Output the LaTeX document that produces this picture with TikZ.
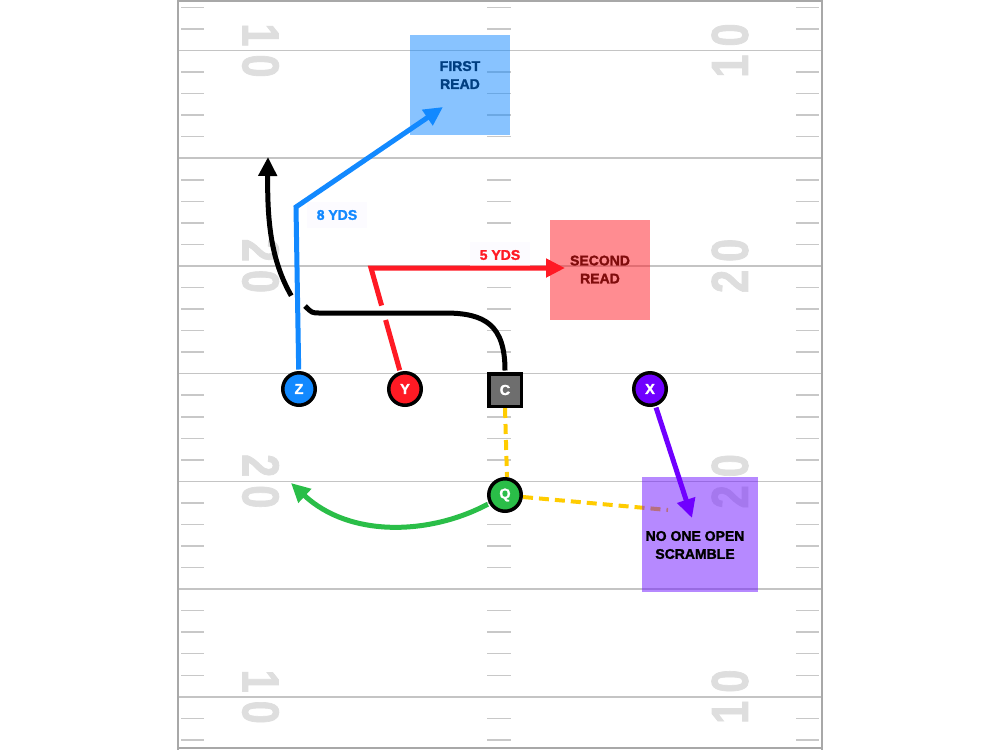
\documentclass[tikz,border=0pt]{standalone}
\usepackage{fontspec}
\setmainfont{Liberation Sans}[BoldFeatures={FakeBold=1.6}]
\usepackage{graphicx}
\usetikzlibrary{arrows.meta}

\definecolor{zblue}{RGB}{18,137,255}
\definecolor{yred}{RGB}{255,26,36}
\definecolor{xpurple}{RGB}{112,0,255}
\definecolor{qgreen}{RGB}{42,190,72}
\definecolor{cgray}{RGB}{110,110,110}
\definecolor{snapgold}{RGB}{255,204,0}
\definecolor{yardc}{RGB}{196,196,196}
\definecolor{hashc}{RGB}{200,200,200}
\definecolor{numc}{RGB}{222,222,222}
\definecolor{borderc}{RGB}{168,168,168}
\definecolor{darkredtxt}{RGB}{128,12,12}
\definecolor{darkbluetxt}{RGB}{0,62,128}
\definecolor{labbg}{RGB}{252,251,255}
\definecolor{scrambox}{RGB}{110,20,255}

\tikzset{
  yardline/.style={draw=yardc, line width=1.6pt},
  hashmark/.style={draw=hashc, line width=1.5pt},
  yardnum/.style={text=numc, font=\bfseries\fontsize{52}{52}\selectfont, inner sep=0pt},
  player/.style={circle, draw=black, line width=3.5pt, minimum size=32.5pt, inner sep=0pt,
    text=white, font=\bfseries\fontsize{14.5}{14.5}\selectfont},
  centersq/.style={rectangle, draw=black, line width=3.5pt, minimum size=32.5pt, inner sep=0pt,
    fill=cgray, text=white, font=\bfseries\fontsize{14.5}{14.5}\selectfont},
  route/.style={line width=5pt, shorten <=1.5pt},
  tipped/.style={-{Triangle[length=19pt,width=18pt]}},
  snapdash/.style={draw=snapgold, line width=4pt, dash pattern=on 10pt off 6pt},
  readbox/.style={rectangle, fill opacity=0.5, inner sep=0pt},
  boxtext/.style={align=center, font=\bfseries\fontsize{14}{18}\selectfont, inner sep=0pt},
  yds/.style={font=\bfseries\fontsize{14}{14}\selectfont, fill=labbg, inner xsep=10pt, inner ysep=8pt},
}

\begin{document}
\begin{tikzpicture}[x=1pt,y=-1pt]
\useasboundingbox (0,0) rectangle (1000,750);
\fill[white] (0,0) rectangle (1000,750);

% ---------- field ----------
\foreach \yy in {50.5,158.2,265.9,373.6,481.3,589,696.7}
  \draw[yardline] (178,\yy) -- (822,\yy);
\foreach \k in {0,...,34} {
  \pgfmathtruncatemacro\m{mod(\k,5)}
  \ifnum\m=2\relax\else
    \pgfmathsetmacro\yy{7.5+\k*21.54}
    \draw[hashmark] (181,\yy) -- (204,\yy) (487,\yy) -- (511,\yy) (796,\yy) -- (819,\yy);
  \fi
}
\foreach \yy/\a/\b [count=\i] in {50.5/1/0,265.9/2/0,481.3/2/0,696.7/1/0} {
  \node[yardnum, rotate=-90] (numL\i) at (260.5,\yy) {\scalebox{0.8}[1]{\a\kern10pt\b}};
  \node[yardnum, rotate=90] (numR\i) at (730,\yy) {\scalebox{0.8}[1]{\a\kern10pt\b}};
}
\draw[draw=borderc, line width=2pt] (178,1) -- (822,1) (178,748) -- (822,748);
\draw[draw=borderc, line width=2.2pt] (178,0) -- (178,750) (822,0) -- (822,750);

% ---------- snap / scramble dashed lines ----------
\coordinate (qend) at (668,510);
\draw[snapdash] (505,408) -- (507,477);
\draw[snapdash] (523,497) -- (qend);

% ---------- read boxes ----------
\node[readbox, fill=zblue, minimum width=100pt, minimum height=100pt] (R1) at (460,85) {};
\node[boxtext, text=darkbluetxt] (R1t) at (460,75) {FIRST\\READ};
\node[readbox, fill=yred, minimum width=100pt, minimum height=100pt] (R2) at (600,270) {};
\node[boxtext, text=darkredtxt] (R2t) at (600,269.5) {SECOND\\READ};
\node[readbox, fill=scrambox, minimum width=116pt, minimum height=115pt] (R3) at (700,534.5) {};
\node[boxtext, text=black] (R3t) at (695,545) {NO ONE OPEN\\SCRAMBLE};

% ---------- labels ----------
\node[yds, text=zblue] (l8) at (337,215) {8 YDS};
\node[yds, text=yred] (l5) at (500,255) {5 YDS};

% ---------- players ----------
\node[player, fill=zblue] (Z) at (299,389) {Z};
\node[player, fill=yred] (Y) at (405,389) {Y};
\node[centersq] (C) at (505,390) {C};
\node[player, fill=xpurple] (X) at (650,389) {X};
\node[player, fill=qgreen] (Q) at (505,495) {Q};

% ---------- routes ----------
% Z (blue)
\coordinate (zbreak) at (296,207);
\coordinate (zend) at (443,107);
\draw[route, zblue, tipped] (Z) -- (zbreak) -- (zend);

% C (black), broken where it passes the blue route
\coordinate (cmid) at (320,313);
\coordinate (cgap1) at (305,306);
\coordinate (cgap2) at (292,297);
\coordinate (cend) at (268,157);
\draw[route, black] (C.north) .. controls (505,325) and (485,313) .. (445,313) -- (cmid)
   .. controls (312,313) .. (cgap1);
\draw[route, black, tipped] (cgap2) .. controls (272,262) and (267,225) .. (cend);

% Y (red), broken where the black route passes
\coordinate (ygap1) at (385.6,320);
\coordinate (ygap2) at (382,307);
\coordinate (ybend) at (371,268);
\coordinate (yend) at (565,268);
\draw[route, yred] (Y) -- (ygap1);
\draw[route, yred, tipped] (ygap2) -- (ybend) -- (yend);

% X (purple)
\coordinate (xend) at (692,518);
\draw[route, xpurple, tipped] (X) -- (xend);

% Q (green)
\coordinate (gend) at (291,483);
\draw[route, qgreen, tipped] (Q) .. controls (430,535) and (350,538) .. (gend);
\end{tikzpicture}
\end{document}
